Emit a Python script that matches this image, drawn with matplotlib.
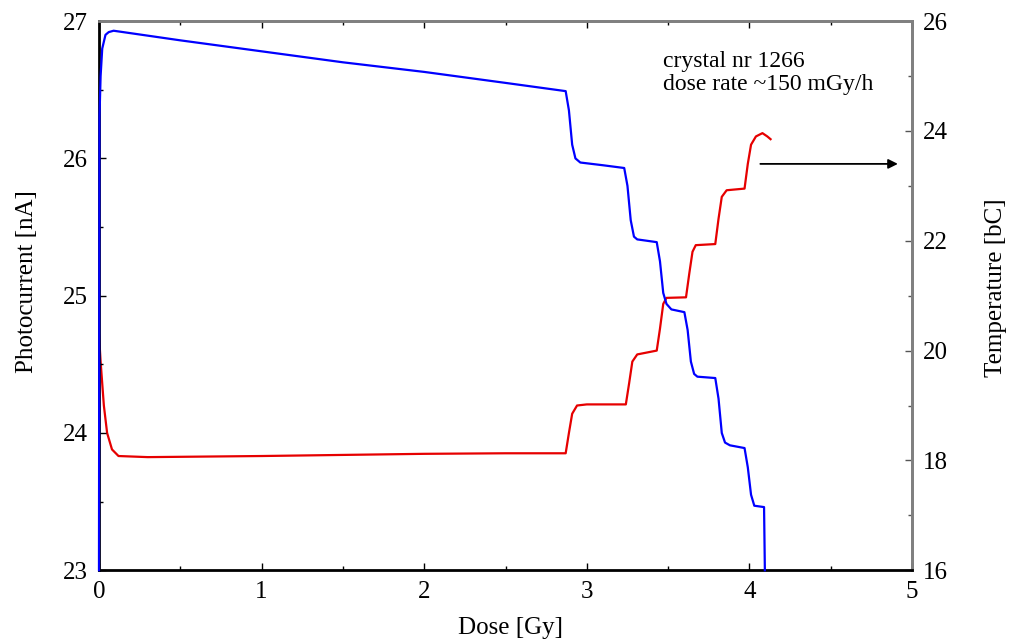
import matplotlib
matplotlib.use("Agg")
from matplotlib import pyplot as plt
from matplotlib.ticker import MultipleLocator

# photocurrent [nA] vs dose [Gy] (blue, left axis)
dose_i = [0.0, 0.003, 0.01, 0.02, 0.04, 0.06, 0.09, 0.5, 1.0, 1.5, 2.0, 2.5, 2.87,
          2.89, 2.91, 2.93, 2.96, 3.1, 3.23, 3.25, 3.27, 3.29, 3.31, 3.43, 3.45,
          3.47, 3.49, 3.52, 3.60, 3.62, 3.64, 3.66, 3.68, 3.79, 3.81, 3.83, 3.85,
          3.88, 3.97, 3.99, 4.01, 4.03, 4.09, 4.095]
current = [23.0, 26.3, 26.6, 26.8, 26.9, 26.92, 26.93, 26.86, 26.78, 26.70, 26.63,
           26.55, 26.49, 26.35, 26.10, 26.00, 25.97, 25.95, 25.93, 25.80, 25.55,
           25.43, 25.41, 25.39, 25.25, 25.02, 24.94, 24.90, 24.88, 24.75, 24.52,
           24.43, 24.41, 24.40, 24.25, 24.00, 23.93, 23.91, 23.89, 23.75, 23.55,
           23.47, 23.46, 23.0]

# temperature [deg C] vs dose [Gy] (red, right axis)
dose_t = [0.0, 0.01, 0.03, 0.05, 0.08, 0.12, 0.3, 1.0, 1.5, 2.0, 2.5, 2.87, 2.89,
          2.91, 2.94, 3.0, 3.24, 3.26, 3.28, 3.31, 3.43, 3.45, 3.47, 3.49, 3.61,
          3.63, 3.65, 3.67, 3.79, 3.81, 3.83, 3.86, 3.97, 3.99, 4.01, 4.04, 4.08,
          4.11, 4.13]
temp = [20.3, 19.8, 19.0, 18.5, 18.2, 18.08, 18.06, 18.08, 18.1, 18.12, 18.13,
        18.13, 18.5, 18.85, 19.0, 19.02, 19.02, 19.4, 19.8, 19.93, 20.0, 20.4,
        20.85, 20.96, 20.97, 21.4, 21.8, 21.92, 21.94, 22.4, 22.8, 22.92, 22.95,
        23.4, 23.75, 23.9, 23.96, 23.9, 23.85]

x_ticks = [0, 1, 2, 3, 4, 5]
left_ticks = [23, 24, 25, 26, 27]
right_ticks = [16, 18, 20, 22, 24, 26]

plt.rcParams['font.family'] = ['Liberation Serif', 'DejaVu Serif']

fig = plt.figure(figsize=(10.1, 6.4), dpi=100)
ax = fig.add_axes([0.098, 0.109, 0.805, 0.858])
ax2 = ax.twinx()
# blue trace sits on top of the red one and over the left spine
ax.set_zorder(ax2.get_zorder() + 1)
ax.patch.set_visible(False)

ax2.plot(dose_t, temp, color='#e60000', lw=1.6)
ax.plot(dose_i, current, color='#0000ff', lw=1.6, zorder=3, clip_on=False)

ax.set_xlim(0, 5)
ax.set_ylim(23, 27)
ax2.set_ylim(16, 26)

ax.set_xticks(x_ticks)
ax.xaxis.set_minor_locator(MultipleLocator(0.5))
ax.set_yticks(left_ticks)
ax.yaxis.set_minor_locator(MultipleLocator(0.5))
ax2.set_yticks(right_ticks)
ax2.yaxis.set_minor_locator(MultipleLocator(1))

ax.tick_params(axis='both', which='major', direction='in', length=5, width=1,
               labelsize=18, pad=8, top=True)
ax.tick_params(axis='both', which='minor', direction='in', length=3, width=1, top=True)
ax.tick_params(axis='y', right=False, which='both')
ax2.tick_params(axis='y', which='major', direction='in', length=5, width=1,
                labelsize=18, pad=8, color='#555555')
ax2.tick_params(axis='y', which='minor', direction='in', length=3, width=1, color='#555555')

for a in (ax, ax2):
    for side in ['left', 'bottom']:
        a.spines[side].set_linewidth(2.0)
    for side in ['right', 'top']:
        a.spines[side].set_color('#808080')
        a.spines[side].set_linewidth(2.0)
ax2.spines['left'].set_visible(False)
ax2.spines['bottom'].set_visible(False)

ax.set_xlabel('Dose [Gy]', fontsize=18)
ax.xaxis.set_label_coords(0.506, -0.086)
ax.set_ylabel('Photocurrent [nA]', fontsize=18)
ax.yaxis.set_label_coords(-0.075, 0.525)
ax2.set_ylabel('Temperature [bC]', fontsize=18, rotation=90)
ax2.yaxis.set_label_coords(1.09, 0.515)

ax2.text(3.47, 25.45, 'crystal nr 1266\ndose rate ~150 mGy/h', fontsize=17,
         va='top', ha='left', linespacing=1.1)
ax2.annotate('', xy=(4.93, 23.4), xytext=(4.05, 23.4),
             arrowprops=dict(arrowstyle='-|>', color='black', lw=1.3, mutation_scale=14))

fig.savefig('out.png', dpi=100)
